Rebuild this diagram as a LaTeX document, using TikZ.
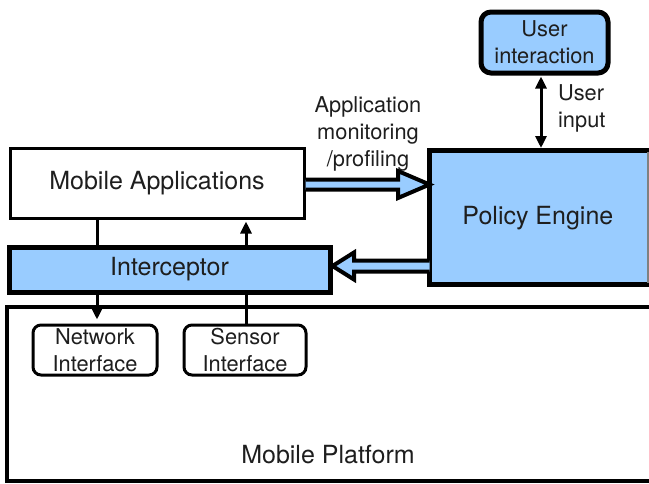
\documentclass[tikz,border=0pt]{standalone}
\usepackage{fontspec}
\setmainfont{TeX Gyre Heros}
\usetikzlibrary{arrows.meta}
\definecolor{boxblue}{RGB}{153,204,255}
\definecolor{txt}{RGB}{30,30,30}
\begin{document}
\begin{tikzpicture}[x=0.5pt,y=-0.5pt,
  bigtxt/.style={font=\fontsize{12.5}{14}\selectfont,text=txt},
  smalltxt/.style={font=\fontsize{10.9}{13.5}\selectfont,text=txt,align=center},
  plainbox/.style={draw=black,line width=1.5pt,fill=white,inner sep=0pt},
  bluebox/.style={draw=black,line width=2.5pt,fill=boxblue,inner sep=0pt},
  ifbox/.style={draw=black,line width=1.5pt,rounded corners=4pt,fill=white,inner sep=0pt,smalltxt},
  conn/.style={line width=1.5pt},
  connarrow/.style={line width=1.5pt,-{Triangle[length=6pt,width=5.5pt]}},
  fatarrow/.style={draw=black,line width=2pt,fill=boxblue,line join=miter}
]
\useasboundingbox (0,0) rectangle (649,483);

% Mobile Platform
\node[inner sep=0pt,minimum width=642pt*0.5,minimum height=174pt*0.5,anchor=north west] (platform) at (7,307) {};
\draw[line width=1.7pt] (649,307) -- (7,307) -- (7,481) -- (649,481);
\node[bigtxt] (platformlabel) at (328,455) {Mobile Platform};

% Mobile Applications
\node[plainbox,bigtxt,minimum width=147pt,minimum height=35pt,anchor=north west] (apps) at (8.5,146.5) {Mobile Applications};

% Interceptor
\node[bluebox,bigtxt,minimum width=160.5pt,minimum height=22.5pt,anchor=north west] (interceptor) at (6.5,244.5) {Interceptor};

% Policy Engine
\node[fill=boxblue,inner sep=0pt,minimum width=110pt,minimum height=67pt,anchor=north west,bigtxt] (policy) at (429.5,150.5) {\hspace*{-2pt}Policy Engine};
\draw[line width=2.5pt] (649,150.5) -- (429.5,150.5) -- (429.5,284.5) -- (649,284.5);
\draw[line width=0.6pt,draw=gray] (648,152) -- (648,283);

% User interaction
\node[bluebox,rounded corners=5pt,smalltxt,minimum width=63.5pt,minimum height=30.5pt,anchor=north west] (user) at (478.5,9.5) {User\\interaction};

% Interfaces
\node[ifbox,minimum width=62pt,minimum height=25pt,anchor=north west] (net) at (31.5,323.5) {Network\\Interface};
\node[ifbox,minimum width=61pt,minimum height=25pt,anchor=north west] (sensor) at (182.5,323.5) {Sensor\\Interface};

% Labels
\node[smalltxt] (monlabel) at (368,134) {Application\\monitoring\\/profiling};
\node[smalltxt,align=left,anchor=west] (inputlabel) at (551,108) {User\\input};

% User input double arrow
\draw[line width=1.5pt,{Triangle[length=6pt,width=5.5pt]}-{Triangle[length=6pt,width=5.5pt]}] (user.south -| 541,0) ++(0,1) coordinate (ua) -- (541,148) coordinate (ub);

% Connectors between apps / interceptor / interfaces
\draw[conn] (apps.south -| 97,0) -- (interceptor.north -| 97,0);
\draw[connarrow] (interceptor.south -| 97,0) -- ([yshift=2pt]net.north -| 97,0);
\draw[conn] (sensor.north -| 246,0) -- (interceptor.south -| 246,0);
\draw[connarrow] (interceptor.north -| 246,0) -- ([yshift=-1pt]apps.south -| 246,0);

% Fat arrows
\draw[fatarrow] (apps.east |- 0,179.5) -- (398,179.5) -- (398,171) -- (policy.west |- 0,184.5) -- (398,198) -- (398,189.5) -- (apps.east |- 0,189.5);
\draw[fatarrow] (policy.west |- 0,260.5) -- (354,260.5) -- (354,252.5) -- (interceptor.east |- 0,266) -- (354,279.5) -- (354,271.5) -- (policy.west |- 0,271.5);
\end{tikzpicture}
\end{document}
